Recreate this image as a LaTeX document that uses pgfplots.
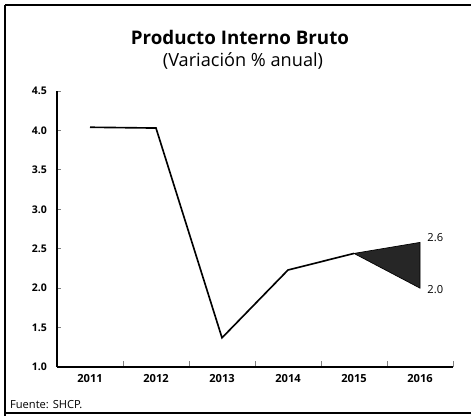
\documentclass[border=0pt]{standalone}
\usepackage{fontspec}
\setmainfont{Open Sans}
\usepackage{pgfplots}
\pgfplotsset{compat=1.18}

\begin{document}
\begin{tikzpicture}[x=0.03cm,y=0.03cm,font=\sffamily]
  % page in pixels, y measured from the bottom
  \useasboundingbox (0,0) rectangle (471,418);
  % frame of the scanned box
  \draw[line width=2.2pt] (5,2) -- (5,413);
  \draw[line width=1.2pt] (5,413) -- (471,413);
  \draw[line width=1.2pt] (5,5) -- (471,5);

  \node[font=\fontsize{16}{18}\selectfont\bfseries] at (240,381) {Producto Interno Bruto};
  \node[font=\fontsize{15.5}{18}\selectfont] at (243,357) {(Variación \% anual)};
  \node[anchor=west,font=\fontsize{9.5}{11}\selectfont] at (6,13) {Fuente: SHCP.};

  \begin{axis}[
    at={(57*0.03cm,51*0.03cm)}, anchor=south west,
    scale only axis, width=11.88cm, height=8.28cm,
    xmin=0.5, xmax=6.5, ymin=1.0, ymax=4.5,
    axis x line*=bottom, axis y line*=left,
    axis line style={line width=1.1pt,-},
    xtick={1,...,6},
    xticklabels={2011,2012,2013,2014,2015,2016},
    minor xtick={0.5,1.5,...,6.5},
    major x tick style={draw=none},
    minor x tick style={line width=0.7pt},
    minor tick length=5pt,
    ytick={1.0,1.5,...,4.5},
    y tick style={line width=0.6pt},
    major tick length=3pt,
    yticklabel style={/pgf/number format/.cd,fixed,fixed zerofill,precision=1,
      /tikz/.cd,font=\fontsize{9}{10}\selectfont\bfseries,xshift=-5pt},
    xticklabel style={font=\fontsize{9.5}{11}\selectfont\bfseries,yshift=-3pt},
    /pgf/number format/assume math mode=true,
    clip=false,
  ]
    \addplot[black,line width=1.4pt]
      coordinates {(1,4.04) (2,4.03) (3,1.37) (4,2.23) (5,2.44)};
    \addplot[fill=black!85,draw=black,line width=0.6pt]
      coordinates {(5,2.44) (6,2.58) (6,2.0)} -- cycle;
    \node[anchor=west,font=\fontsize{9.5}{11}\selectfont] at (axis cs:6.05,2.64) {2.6};
    \node[anchor=west,font=\fontsize{9.5}{11}\selectfont] at (axis cs:6.05,1.98) {2.0};
  \end{axis}
\end{tikzpicture}
\end{document}
